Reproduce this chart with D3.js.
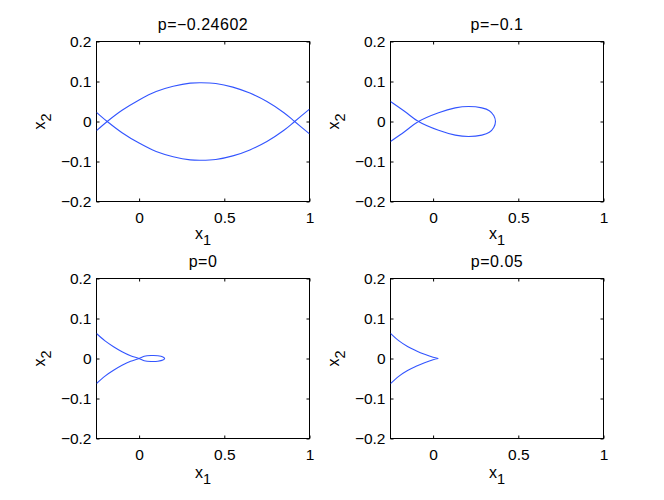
<!DOCTYPE html>
<html>
<head>
<meta charset="utf-8">
<script src="https://cdn.jsdelivr.net/npm/d3@7"></script>
<style>
body { margin: 0; background: #fff; }
svg { display: block; font-family: "Liberation Sans", Arial, Helvetica, sans-serif; }
</style>
</head>
<body>
<svg id="fig" width="664" height="500"></svg>
<script>
var width = 664;
var height = 500;

// data
var titles = ["p=\u22120.24602", "p=\u22120.1", "p=0", "p=0.05"];
var xDomain = [-0.25, 1];
var yDomain = [-0.2, 0.2];
var xTicks = [0, 0.5, 1];
var yTicks = [-0.2, -0.1, 0, 0.1, 0.2];

// p=-0.24602 : two branches forming a lens
var p1Upper = [[-0.25, -0.023], [-0.187, 0], [-0.1, 0.028], [0, 0.054], [0.1, 0.075], [0.2, 0.088],
  [0.3, 0.096], [0.365, 0.097], [0.45, 0.095], [0.55, 0.086], [0.65, 0.071], [0.75, 0.05],
  [0.85, 0.022], [0.913, 0], [1, -0.031]];
var p1Lower = [[-0.25, 0.023], [-0.187, 0], [-0.1, -0.028], [0, -0.054], [0.1, -0.075], [0.2, -0.088],
  [0.3, -0.096], [0.365, -0.097], [0.45, -0.095], [0.55, -0.086], [0.65, -0.071], [0.75, -0.05],
  [0.85, -0.022], [0.913, 0], [1, 0.031]];

// p=-0.1 : fish shaped loop
var p2Curve = [[-0.25, -0.05], [-0.166, -0.025], [-0.086, 0], [0.032, 0.022], [0.13, 0.034],
  [0.208, 0.0375], [0.286, 0.034], [0.33, 0.027], [0.356, 0.015], [0.366, 0],
  [0.356, -0.015], [0.33, -0.027], [0.286, -0.034], [0.208, -0.0375], [0.13, -0.034],
  [0.032, -0.022], [-0.086, 0], [-0.166, 0.025], [-0.25, 0.05]];

// p=0 : small loop
var p3Curve = [[-0.25, 0.0625], [-0.2, 0.044], [-0.15, 0.0295], [-0.1, 0.017], [-0.05, 0.007], [0, 0],
  [0.03, -0.0055], [0.07, -0.0075], [0.11, -0.007], [0.14, -0.004], [0.15, 0],
  [0.14, 0.004], [0.11, 0.007], [0.07, 0.0075], [0.03, 0.0055], [0, 0],
  [-0.05, -0.007], [-0.1, -0.017], [-0.15, -0.0295], [-0.2, -0.044], [-0.25, -0.0625]];

// p=0.05 : cusp
var p4Upper = [[-0.25, 0.063], [-0.2, 0.044], [-0.15, 0.03], [-0.1, 0.0195], [-0.05, 0.0105], [0, 0.003], [0.03, 0]];
var p4Lower = [[-0.25, -0.063], [-0.2, -0.044], [-0.15, -0.03], [-0.1, -0.0195], [-0.05, -0.0105], [0, -0.003], [0.03, 0]];

var curves = [[p1Upper, p1Lower], [p2Curve], [p3Curve], [p4Upper, p4Lower]];

// subplot positions
var boxes = [
  { left: 96.5, top: 41.5 },
  { left: 390.5, top: 41.5 },
  { left: 96.5, top: 278.5 },
  { left: 390.5, top: 278.5 }
];
var pw = 213;
var ph = 160;

var svg = d3.select("#fig");
svg.append("rect").attr("width", width).attr("height", height).attr("fill", "#fff");

var xScale = d3.scaleLinear().domain(xDomain).range([0, pw]);
var yScale = d3.scaleLinear().domain(yDomain).range([ph, 0]);
var fmt = d3.format("");

var line = d3.line()
  .x(function(d) { return xScale(d[0]); })
  .y(function(d) { return yScale(d[1]); })
  .curve(d3.curveCatmullRom.alpha(0.5));

boxes.forEach(function(b, i) {
  var g = svg.append("g").attr("transform", "translate(" + b.left + "," + b.top + ")");

  g.append("clipPath").attr("id", "clip" + i)
    .append("rect").attr("width", pw).attr("height", ph);

  // axes with inward ticks
  var bottom = g.append("g").attr("transform", "translate(0," + ph + ")")
    .call(d3.axisBottom(xScale).tickValues(xTicks).tickFormat(fmt).tickSizeInner(-3).tickSizeOuter(0).tickPadding(10));
  var top = g.append("g")
    .call(d3.axisTop(xScale).tickValues(xTicks).tickFormat("").tickSizeInner(-3).tickSizeOuter(0));
  var left = g.append("g")
    .call(d3.axisLeft(yScale).tickValues(yTicks).tickFormat(fmt).tickSizeInner(-3).tickSizeOuter(0).tickPadding(5));
  var right = g.append("g").attr("transform", "translate(" + pw + ",0)")
    .call(d3.axisRight(yScale).tickValues(yTicks).tickFormat("").tickSizeInner(-3).tickSizeOuter(0));

  [bottom, top, left, right].forEach(function(a) {
    a.select(".domain").remove();
    a.selectAll("line").attr("stroke", "#000");
    a.selectAll("text").attr("fill", "#000").style("font-size", "15.5px")
      .style("font-family", "'Liberation Sans', Arial, sans-serif");
  });

  g.append("rect")
    .attr("width", pw).attr("height", ph)
    .attr("fill", "none").attr("stroke", "#000").attr("stroke-width", 1);

  // curves
  g.append("g").attr("clip-path", "url(#clip" + i + ")")
    .selectAll("path")
    .data(curves[i])
    .enter()
    .append("path")
    .attr("d", line)
    .attr("fill", "none")
    .attr("stroke", "#3355ff")
    .attr("stroke-width", 1.1);

  // title
  g.append("text")
    .attr("x", pw / 2).attr("y", -12)
    .attr("text-anchor", "middle")
    .style("font-size", "16px")
    .style("letter-spacing", "0.5px")
    .text(titles[i]);

  // x label
  var xl = g.append("text")
    .attr("x", pw / 2).attr("y", ph + (i < 2 ? 37 : 39))
    .attr("text-anchor", "middle")
    .style("font-size", "16px");
  xl.append("tspan").text("x");
  xl.append("tspan").attr("dy", 6).style("font-size", "14.5px").text("1");

  // y label
  var yl = g.append("text")
    .attr("transform", "translate(" + (-52) + "," + (ph / 2) + ") rotate(-90)")
    .attr("text-anchor", "middle")
    .style("font-size", "16px");
  yl.append("tspan").text("x");
  yl.append("tspan").attr("dy", 6).style("font-size", "14.5px").text("2");
});
</script>
</body>
</html>
